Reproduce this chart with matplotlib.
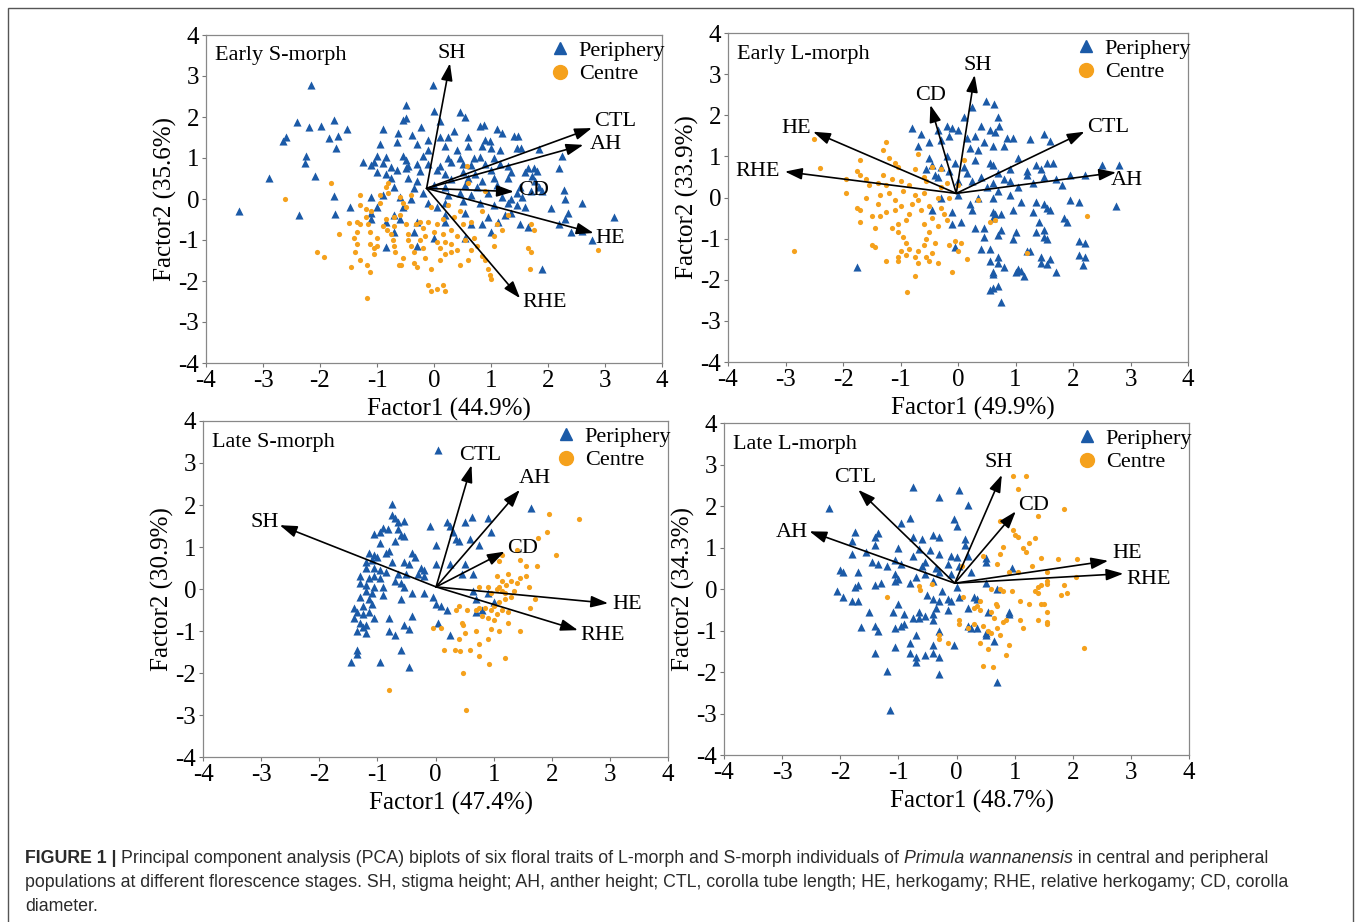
import matplotlib
matplotlib.use("Agg")
import matplotlib.pyplot as plt
from matplotlib.lines import Line2D

plt.rcParams["font.family"] = ["Liberation Serif", "DejaVu Serif"]
plt.rcParams["axes.unicode_minus"] = False

BLUE = "#1b5aa7"
ORANGE = "#f5a11c"

# ---------------------------------------------------------------
# data (PCA scores + loading vectors)
# ---------------------------------------------------------------

variables = ["SH", "AH", "CTL", "HE", "RHE", "CD"]

# Early S-morph
es_periphery = [
    (-2.15, 2.78), (-2.4, 1.88), (-2.2, 1.75), (-1.98, 1.78), (-1.75, 1.93), (-1.52, 1.7),
    (-1.85, 1.48), (-1.68, 1.53), (-2.65, 1.42), (-2.6, 1.52), (-1.72, 1.25), (-2.25, 1.05),
    (-2.27, 0.88), (-2.08, 0.55), (-2.9, 0.52), (-1.75, 0.08), (-3.42, -0.3), (-2.37, -0.38),
    (-1.74, -0.37), (-1.47, -0.2), (-1.24, 0.9), (-0.5, 2.3), (-0.55, 1.92), (-0.5, 1.98),
    (-0.9, 1.7), (-0.63, 1.6), (-0.38, 1.55), (-0.22, 1.75), (-0.01, 2.78), (0.0, 2.15),
    (0.1, 1.9), (0.45, 2.12), (0.55, 2.0), (0.35, 1.65), (0.6, 1.5), (0.8, 1.78), (0.88, 1.8),
    (1.1, 1.7), (1.2, 1.6), (1.4, 1.53), (1.47, 1.53), (-0.95, 1.35), (-0.65, 1.4), (-0.1, 1.45),
    (0.1, 1.5), (0.25, 1.5), (0.9, 1.45), (0.98, 1.42), (1.0, 1.25), (0.2, 1.3), (-0.3, 1.35),
    (-0.1, 1.2), (0.4, 1.2), (0.6, 1.3), (0.85, 1.3), (1.15, 1.2), (1.45, 1.25), (1.52, 1.25),
    (1.85, 1.23), (2.25, 1.05), (-1.0, 1.05), (-0.85, 1.02), (-0.55, 1.05), (-0.5, 0.95),
    (-0.2, 1.05), (0.25, 1.0), (0.45, 1.0), (0.7, 1.0), (0.8, 1.02), (1.05, 1.0), (-1.05, 0.9),
    (-0.9, 0.88), (-1.1, 0.82), (-0.75, 0.78), (-0.45, 0.8), (-0.3, 0.85), (-0.1, 0.85),
    (0.1, 0.8), (0.3, 0.9), (0.5, 0.85), (0.65, 0.82), (0.9, 0.85), (1.15, 0.85), (1.3, 0.8),
    (1.65, 0.75), (1.75, 0.75), (1.8, 0.68), (2.2, 0.75), (-1.0, 0.65), (-0.85, 0.6),
    (-0.65, 0.7), (-0.5, 0.75), (-0.25, 0.68), (0.05, 0.7), (0.2, 0.6), (0.5, 0.65), (0.72, 0.62),
    (1.0, 0.7), (1.35, 0.65), (1.6, 0.65), (1.72, 0.55), (-0.75, 0.5), (-0.45, 0.5), (-0.3, 0.45),
    (0.3, 0.48), (0.6, 0.5), (0.85, 0.45), (1.05, 0.5), (1.3, 0.5), (1.78, 0.45), (1.85, 0.3),
    (1.9, 0.2), (2.28, 0.22), (-0.7, 0.3), (-0.35, 0.28), (0.0, 0.35), (0.2, 0.3), (0.55, 0.35),
    (0.75, 0.3), (1.1, 0.35), (1.5, 0.3), (1.45, 0.15), (-1.1, 0.05), (-0.9, 0.1), (-0.6, 0.05),
    (-0.4, 0.0), (-0.2, 0.15), (0.25, 0.1), (0.45, 0.15), (0.65, 0.1), (0.95, 0.15), (1.2, 0.05),
    (1.35, 0.0), (1.55, 0.05), (1.7, 0.2), (2.3, 0.0), (2.6, -0.1), (-1.0, -0.2), (-0.55, -0.2),
    (-0.1, -0.1), (0.05, -0.2), (0.2, -0.1), (0.5, -0.05), (0.8, -0.1), (1.05, -0.15),
    (1.3, -0.1), (1.45, -0.15), (1.6, -0.2), (2.05, -0.22), (2.35, -0.35), (-1.1, -0.35),
    (-0.7, -0.4), (0.2, -0.4), (0.55, -0.35), (0.95, -0.45), (1.25, -0.4), (1.35, -0.35),
    (2.3, -0.5), (2.2, -0.6), (-1.1, -0.5), (-0.85, -0.55), (-0.6, -0.5), (-0.3, -0.55),
    (0.2, -0.55), (0.65, -0.6), (0.85, -0.6), (1.12, -0.55), (1.5, -0.6), (1.65, -0.68),
    (2.4, -0.8), (2.6, -0.78), (2.78, -1.0), (3.15, -0.45), (-0.7, -0.8), (-0.35, -0.8),
    (0.0, -0.95), (0.55, -0.95), (1.0, -0.8), (-0.85, -1.18), (-0.3, -1.15), (1.9, -1.7),
]
es_centre = [
    (-2.62, 0.0), (-1.8, 0.38), (-2.05, -1.3), (-1.93, -1.42), (-1.67, -0.85), (-1.5, -0.58),
    (-1.35, -0.55), (-1.35, -0.8), (-1.4, -0.95), (-1.35, -1.1), (-1.38, -1.3), (-1.3, -1.48),
    (-1.45, -1.65), (-1.18, -1.6), (-1.13, -1.78), (-1.18, -2.42), (-1.3, -0.6), (-1.3, 0.1),
    (-1.3, -0.15), (-1.2, -0.25), (-1.1, -0.3), (-1.15, -0.6), (-1.12, -0.8), (-1.12, -1.1),
    (-1.05, -1.2), (-1.0, -1.15), (-1.05, -1.35), (-1.0, -0.95), (-0.95, 0.1), (-0.95, -0.1),
    (-0.85, 0.3), (-0.8, 0.4), (-0.8, 0.15), (-0.85, -0.5), (-0.82, -0.75), (-0.75, -0.85),
    (-0.72, -1.0), (-0.7, -1.15), (-0.68, -1.3), (-0.62, -1.6), (-0.58, -1.6), (-0.6, -0.4),
    (-0.6, 0.05), (-0.55, -0.1), (-0.5, -0.2), (-0.5, -0.6), (-0.45, -0.85), (-0.45, -1.0),
    (-0.4, -1.15), (-0.35, -1.3), (-0.35, -1.55), (-0.3, -1.65), (-0.32, -0.6), (-0.25, -0.55),
    (-0.2, -0.7), (-0.25, -1.0), (-0.2, -1.2), (-0.15, -1.45), (-0.15, -0.9), (-0.1, -0.55),
    (-0.05, -0.2), (-0.05, -1.7), (0.05, -0.6), (0.05, -1.05), (0.1, -1.2), (0.1, -1.5),
    (0.15, -0.5), (0.15, -0.85), (0.2, -1.05), (0.2, -1.35), (0.25, -0.15), (0.3, -0.75),
    (0.3, -1.1), (0.3, -1.3), (0.4, -0.9), (0.4, -1.25), (0.45, -1.6), (0.5, -0.6), (0.55, -1.0),
    (0.58, 0.8), (0.6, 0.4), (0.65, -0.55), (0.65, -1.25), (0.7, -0.95), (0.75, -1.15),
    (0.85, -1.4), (0.9, -1.5), (0.95, -1.7), (0.98, -1.85), (1.0, -1.95), (1.05, -1.15),
    (1.05, -0.9), (1.1, -0.6), (1.2, -0.75), (1.3, -0.4), (1.7, -0.6), (1.75, -0.75),
    (1.65, -1.2), (1.7, -1.3), (1.68, -1.7), (2.88, -1.25), (-0.1, -2.1), (-0.05, -2.25),
    (0.05, -2.2), (0.15, -2.1), (0.2, -2.25), (-0.7, -0.45), (-0.9, -0.65), (-0.7, -0.65),
    (0.0, -0.8), (0.45, -0.3), (-0.4, 0.1), (0.35, -0.45), (0.85, -0.3), (0.9, 0.2),
    (-1.2, -0.45), (-0.55, -1.45), (0.6, -1.5),
]
es_origin = (-0.13, 0.26)
es_tips = [(0.28, 3.31), (2.62, 1.32), (2.77, 1.73), (2.80, -0.83), (1.51, -2.42), (1.40, 0.18)]

# Early L-morph
el_periphery = [
    (-1.75, -1.7), (0.48, 2.35), (0.62, 2.28), (0.7, 1.95), (0.25, 2.2), (0.1, 1.95), (-0.8, 1.7),
    (-0.65, 1.55), (-0.35, 1.65), (-0.2, 1.75), (-0.1, 1.7), (0.0, 1.65), (0.15, 1.45),
    (0.4, 1.75), (0.55, 1.65), (0.65, 1.6), (0.72, 1.75), (0.85, 1.45), (0.95, 1.45), (0.45, 1.35),
    (0.3, 1.5), (-0.5, 1.35), (-0.7, 1.25), (-0.3, 1.4), (-0.15, 1.5), (1.25, 1.42), (1.5, 1.55),
    (1.6, 1.38), (0.2, 1.2), (0.6, 1.25), (0.8, 1.25), (1.05, 0.95), (1.35, 0.8), (1.55, 0.85),
    (1.65, 0.85), (-0.5, 0.95), (-0.45, 0.8), (-0.3, 0.75), (-0.05, 0.85), (0.1, 0.75),
    (0.3, 0.9), (0.55, 0.85), (0.6, 0.8), (0.9, 0.7), (1.2, 0.65), (1.45, 0.7), (2.5, 0.8),
    (2.8, 0.8), (-0.55, 0.7), (-0.4, 0.55), (-0.15, 0.65), (0.15, 0.6), (0.4, 0.5), (0.7, 0.6),
    (0.8, 0.45), (1.2, 0.55), (1.5, 0.5), (1.7, 0.45), (1.95, 0.55), (2.2, 0.55), (-0.35, 0.5),
    (0.0, 0.4), (0.25, 0.4), (0.6, 0.35), (0.9, 0.4), (1.05, 0.25), (1.3, 0.35), (1.8, 0.3),
    (0.5, 0.25), (0.7, 0.15), (0.9, 0.05), (-0.3, 0.0), (0.0, 0.05), (0.35, 0.0), (0.6, 0.0),
    (1.1, -0.1), (1.35, -0.1), (1.5, -0.15), (1.95, -0.05), (2.1, -0.1), (2.75, -0.2),
    (-0.45, -0.3), (-0.1, -0.35), (0.25, -0.3), (0.6, -0.35), (0.75, -0.4), (0.95, -0.3),
    (1.3, -0.35), (1.55, -0.25), (1.6, -0.3), (1.85, -0.5), (1.9, -0.6), (0.6, -0.5), (1.4, -0.6),
    (-0.1, -0.65), (0.05, -0.6), (0.3, -0.75), (0.45, -0.75), (0.75, -0.8), (1.0, -0.85),
    (1.35, -0.85), (1.5, -0.8), (1.5, -0.95), (0.45, -0.95), (0.7, -0.9), (0.95, -1.0),
    (1.55, -1.0), (2.1, -1.05), (2.2, -1.1), (-0.05, -1.2), (0.4, -1.25), (0.55, -1.25),
    (1.2, -1.3), (1.25, -1.3), (1.45, -1.45), (1.6, -1.5), (1.55, -1.62), (1.45, -1.6),
    (2.1, -1.4), (2.2, -1.45), (2.18, -1.65), (1.7, -1.8), (0.55, -1.55), (0.7, -1.45),
    (0.7, -1.6), (0.8, -1.7), (0.6, -1.8), (0.6, -1.85), (1.0, -1.8), (1.05, -1.75), (1.1, -1.78),
    (1.15, -1.9), (0.55, -2.25), (0.6, -2.2), (0.7, -2.15), (0.75, -2.55), (0.65, -0.4),
    (0.2, -0.15), (-0.2, 1.0), (0.35, 1.15),
]
el_centre = [
    (-2.5, 1.42), (-2.4, 0.72), (-2.85, -1.3), (-1.95, 0.45), (-1.95, 0.1), (-1.75, 0.65),
    (-1.7, 0.55), (-1.7, 0.9), (-1.6, 0.45), (-1.55, 0.3), (-1.7, -0.3), (-1.75, -0.25),
    (-1.7, -0.6), (-1.5, -0.45), (-1.45, -0.75), (-1.5, -1.15), (-1.45, -1.2), (-1.25, 1.35),
    (-1.3, 1.15), (-1.2, 0.95), (-1.1, 0.85), (-1.05, 0.75), (-1.3, 0.55), (-1.4, 0.35),
    (-1.25, 0.3), (-1.15, 0.45), (-1.0, 0.4), (-1.35, 0.05), (-1.2, 0.1), (-1.1, -0.05),
    (-1.25, -0.35), (-1.35, -0.45), (-1.1, -0.3), (-1.0, -0.2), (-0.95, 0.15), (-0.85, 0.3),
    (-0.75, 0.7), (-0.7, 1.05), (-0.45, 0.75), (-0.55, 0.4), (-0.6, 0.1), (-0.7, -0.05),
    (-0.8, -0.15), (-0.85, -0.4), (-0.9, -0.55), (-1.05, -0.65), (-1.15, -0.75), (-1.05, -0.85),
    (-0.95, -0.95), (-0.9, -1.1), (-0.85, -1.25), (-1.0, -1.3), (-1.05, -1.45), (-0.9, -1.4),
    (-0.75, -1.45), (-0.7, -1.3), (-0.6, -1.15), (-0.55, -1.0), (-0.5, -0.85), (-0.6, -0.65),
    (-0.45, -0.5), (-0.5, -0.2), (-0.35, 0.0), (-0.3, 0.25), (-0.2, 0.35), (-0.25, -0.4),
    (-0.35, -0.7), (-0.4, -1.1), (-0.45, -1.35), (-0.55, -1.45), (-0.7, -1.6), (-0.5, -1.55),
    (-0.35, -1.6), (-0.15, -1.15), (-0.05, -1.05), (0.0, -1.3), (0.05, -1.1), (0.15, -1.5),
    (-0.1, -1.8), (-0.75, -1.9), (-0.88, -2.3), (-1.25, -1.55), (-1.05, -1.55), (0.0, 0.3),
    (0.1, 0.9), (0.35, -0.05), (0.55, -0.6), (0.65, -0.55), (1.2, -1.35), (2.25, -0.45),
    (-0.3, 0.7), (-0.6, 0.5), (-0.65, -0.3), (-0.75, 0.05), (-0.3, -0.25), (-0.2, -0.55),
    (-1.6, 0.0), (-1.4, -0.15), (-0.15, 0.0),
]
el_origin = (-0.03, 0.10)
el_tips = [(0.29, 2.98), (2.75, 0.61), (2.20, 1.60), (-2.52, 1.60), (-3.01, 0.63), (-0.48, 2.25)]

# Late S-morph
ls_periphery = [
    (0.05, 3.3), (1.65, 1.92), (-0.75, 2.03), (-0.75, 1.75), (-0.7, 1.68), (-0.65, 1.6),
    (-0.55, 1.62), (-0.9, 1.45), (-0.82, 1.42), (-0.65, 1.42), (-1.05, 1.32), (-0.95, 1.35),
    (-0.6, 1.28), (-0.55, 1.25), (-0.7, 1.15), (-0.95, 1.1), (-0.1, 1.5), (0.2, 1.6), (0.25, 1.5),
    (0.3, 1.35), (0.5, 1.6), (0.62, 1.72), (0.9, 1.7), (0.95, 1.35), (0.35, 1.2), (0.4, 1.15),
    (0.6, 1.2), (0.75, 1.05), (0.0, 1.05), (-1.15, 0.85), (-1.05, 0.8), (-0.85, 0.85),
    (-0.8, 0.9), (-0.4, 0.85), (-0.35, 0.75), (-1.2, 0.65), (-1.1, 0.7), (-1.0, 0.75),
    (-0.75, 0.65), (-0.55, 0.65), (-0.45, 0.6), (-0.25, 0.5), (-0.2, 0.45), (-1.2, 0.5),
    (-1.05, 0.5), (-0.95, 0.45), (-0.85, 0.4), (-0.65, 0.35), (-0.5, 0.35), (-1.3, 0.3),
    (-1.15, 0.25), (-1.05, 0.3), (-0.95, 0.25), (-0.7, 0.2), (-0.6, 0.15), (-0.3, 0.35),
    (0.0, 0.6), (0.25, 0.6), (0.5, 0.6), (0.65, 0.35), (0.45, 0.35), (-1.3, 0.15), (-1.2, 0.1),
    (-1.05, 0.05), (-0.9, 0.05), (-0.55, 0.05), (-1.2, -0.05), (-1.1, -0.1), (-1.3, -0.2),
    (-1.15, -0.25), (-0.9, -0.15), (-0.6, -0.25), (-0.4, -0.1), (-0.2, -0.1), (-0.05, -0.2),
    (-1.25, -0.4), (-1.1, -0.35), (-1.4, -0.45), (-1.35, -0.55), (-1.25, -0.6), (-1.15, -0.55),
    (-1.05, -0.7), (-1.4, -0.7), (-1.3, -0.8), (-1.2, -0.85), (-1.35, -1.0), (-1.2, -1.05),
    (-1.25, -0.9), (-0.8, -0.7), (-0.55, -0.85), (-0.45, -0.95), (-0.8, -1.0), (-0.7, -1.1),
    (-0.4, -0.65), (0.0, -0.35), (0.1, -0.4), (0.2, -0.5), (0.05, -0.8), (0.25, -1.1),
    (0.7, -0.25), (0.7, -0.55), (0.8, -0.5), (-1.35, -1.45), (-1.35, -1.55), (-1.45, -1.75),
    (-0.95, -1.75), (-0.45, -1.85), (-0.6, -1.45), (-0.2, 0.3), (0.65, -0.05), (0.9, -0.1),
    (1.0, -0.3),
]
ls_centre = [
    (1.95, 1.78), (2.47, 1.67), (1.92, 1.35), (1.77, 1.22), (2.08, 0.82), (1.4, 0.93),
    (1.15, 0.8), (1.1, 0.67), (1.45, 0.68), (1.75, 0.55), (1.55, 0.55), (1.05, 0.32),
    (1.25, 0.35), (1.45, 0.25), (1.55, 0.3), (1.15, 0.18), (1.3, 0.2), (1.4, 0.15), (1.22, 0.1),
    (1.1, 0.05), (0.75, 0.05), (0.9, 0.05), (1.6, 0.05), (0.95, -0.1), (1.15, -0.05),
    (1.35, -0.05), (1.3, -0.2), (1.1, -0.3), (1.2, -0.25), (1.0, -0.4), (0.85, -0.45),
    (0.75, -0.45), (0.7, -0.5), (0.95, -0.5), (1.15, -0.5), (1.25, -0.55), (1.05, -0.6),
    (0.8, -0.65), (0.9, -0.7), (1.0, -0.75), (1.25, -0.8), (0.55, -0.5), (0.35, -0.5),
    (0.4, -0.4), (1.72, -0.25), (1.62, -0.45), (0.45, -0.8), (0.48, -0.85), (-0.05, -0.92),
    (0.1, -0.92), (0.4, -1.2), (0.5, -1.05), (0.7, -1.0), (0.95, -0.95), (1.1, -1.0),
    (1.45, -1.0), (0.75, -1.3), (0.9, -1.2), (0.15, -1.45), (0.33, -1.45), (0.42, -1.47),
    (0.6, -1.45), (0.75, -1.6), (0.92, -1.78), (1.2, -1.65), (0.48, -2.0), (-0.8, -2.4),
    (0.52, -2.88), (1.05, 0.0), (1.2, -0.1),
]
ls_origin = (0.01, 0.05)
ls_tips = [(-2.68, 1.52), (1.45, 2.36), (0.62, 2.95), (2.97, -0.34), (2.45, -0.98), (1.19, 0.89)]

# Late L-morph
ll_periphery = [
    (-2.2, 1.95), (-0.75, 2.45), (0.05, 2.38), (-0.3, 2.22), (0.2, 2.02), (-0.8, 1.72),
    (-0.95, 1.58), (-0.05, 1.68), (0.0, 1.52), (-1.75, 1.38), (-1.35, 1.35), (-1.4, 1.25),
    (-0.75, 1.25), (-0.6, 1.2), (-0.4, 1.3), (-0.3, 1.25), (-1.8, 1.15), (-1.55, 0.9),
    (-1.4, 1.05), (-1.0, 1.0), (-0.65, 0.97), (-0.45, 0.95), (0.15, 1.2), (0.15, 1.05),
    (-1.8, 0.85), (-1.45, 0.65), (-1.35, 0.6), (-1.05, 0.7), (-0.75, 0.8), (-0.55, 0.65),
    (-0.3, 0.85), (-0.1, 0.8), (0.0, 0.78), (0.2, 0.8), (0.5, 0.75), (0.5, 0.65), (-1.2, 0.55),
    (-0.95, 0.6), (-0.6, 0.55), (-0.35, 0.5), (-0.15, 0.6), (0.05, 0.55), (-2.0, 0.45),
    (-1.95, 0.4), (-1.7, 0.42), (-1.05, 0.35), (-1.0, 0.25), (-0.7, 0.3), (-0.55, 0.35),
    (-0.3, 0.4), (-0.1, 0.35), (0.25, 0.4), (0.95, 0.5), (-1.7, 0.1), (-1.75, 0.05), (-1.4, 0.1),
    (-1.3, 0.15), (-1.05, 0.2), (-0.8, 0.15), (-0.4, 0.2), (0.5, 0.15), (-2.05, -0.05),
    (-1.95, -0.2), (-1.8, -0.3), (-1.7, -0.3), (-1.0, -0.35), (-0.4, -0.25), (-0.3, -0.3),
    (-0.15, -0.25), (-0.1, -0.3), (0.0, 0.05), (0.3, -0.2), (0.35, -0.25), (0.7, 0.0),
    (-1.5, -0.55), (-1.1, -0.55), (-0.9, -0.6), (-0.65, -0.55), (-0.55, -0.65), (-0.4, -0.6),
    (-0.35, -0.45), (-0.15, -0.5), (0.2, -0.45), (0.55, -0.55), (0.9, -0.55), (0.9, -0.6),
    (-1.65, -0.92), (-1.4, -0.9), (-1.35, -1.0), (-1.05, -0.95), (-0.95, -0.9), (-0.9, -0.85),
    (-0.75, -0.7), (-0.65, -0.7), (-0.4, -0.75), (-0.3, -1.0), (-0.7, -1.1), (0.25, -0.95),
    (0.35, -0.95), (0.5, -1.05), (0.5, -1.1), (0.65, -1.25), (-1.05, -1.4), (-0.8, -1.3),
    (-0.4, -1.35), (-0.05, -1.35), (-1.4, -1.55), (-0.8, -1.55), (-0.7, -1.65), (-0.7, -1.75),
    (-0.55, -1.6), (-0.4, -1.55), (-0.3, -1.65), (-1.2, -1.98), (-0.3, -2.05), (0.7, -2.25),
    (-1.15, -2.92), (0.2, -0.9), (0.05, -0.2), (-0.5, -0.15), (-0.25, -0.05),
]
ll_centre = [
    (0.97, 2.72), (1.2, 2.72), (1.05, 2.4), (1.85, 1.92), (1.4, 1.75), (0.75, 1.65), (0.97, 1.42),
    (1.0, 1.3), (1.05, 1.25), (1.35, 1.22), (1.25, 1.1), (1.15, 1.0), (0.8, 1.02), (1.2, 0.9),
    (0.75, 0.85), (0.45, 0.8), (1.45, 0.75), (1.75, 0.72), (2.07, 0.72), (0.7, 0.6), (1.3, 0.55),
    (1.55, 0.4), (1.05, 0.4), (0.9, 0.4), (0.1, 0.55), (2.05, 0.3), (1.85, 0.1), (1.55, 0.2),
    (1.45, 0.1), (1.4, 0.05), (1.55, 0.12), (0.6, 0.0), (0.75, 0.0), (0.8, -0.05), (1.35, -0.05),
    (1.9, -0.1), (1.4, -0.1), (1.8, -0.15), (-1.2, -0.2), (-0.65, 0.08), (-0.63, -0.03),
    (-0.43, 0.12), (0.12, -0.2), (0.4, -0.3), (0.68, -0.35), (0.7, -0.4), (1.1, -0.3),
    (1.25, -0.35), (1.45, -0.35), (1.5, -0.35), (0.35, -0.4), (0.4, -0.5), (0.6, -0.55),
    (0.65, -0.7), (0.8, -0.8), (0.85, -0.75), (1.1, -0.75), (1.4, -0.75), (1.55, -0.55),
    (1.55, -0.8), (1.55, -0.85), (0.05, -0.75), (0.05, -0.85), (0.3, -0.85), (0.2, -0.95),
    (0.45, -0.9), (0.6, -1.05), (0.7, -0.95), (0.75, -1.1), (1.15, -0.95), (0.55, -1.0),
    (-0.3, -1.1), (-0.3, -1.2), (-0.15, -1.3), (0.4, -1.3), (0.55, -1.45), (0.9, -1.35),
    (0.85, -1.6), (0.45, -1.85), (0.62, -1.88), (2.2, -1.42), (0.3, -0.45), (0.95, -0.05),
]
ll_origin = (-0.03, 0.14)
ll_tips = [(0.78, 2.75), (-2.53, 1.39), (-1.69, 2.39), (2.61, 0.68), (2.87, 0.37), (1.02, 1.87)]

panel_titles = ["Early S-morph", "Early L-morph", "Late S-morph", "Late L-morph"]
x_labels = ["Factor1 (44.9%)", "Factor1 (49.9%)", "Factor1 (47.4%)", "Factor1 (48.7%)"]
y_labels = ["Factor2 (35.6%)", "Factor2 (33.9%)", "Factor2 (30.9%)", "Factor2 (34.3%)"]

# label offsets (points) from arrow tip, same order as `variables`
label_offsets = [
    [(1, 7), (16, 0), (17, 5), (12, -4), (18, -3), (14, 1)],
    [(2, 7), (8, -6), (17, 3), (-12, 2), (-20, 0), (0, 7)],
    [(-11, 2), (11, 8), (6, 7), (14, -1), (18, -4), (13, 2)],
    [(-2, 9), (-13, -1), (-2, 9), (14, 5), (18, -4), (13, 4)],
]

# axes boxes in pixels: left, top, right, bottom
W, H = 1357, 922
boxes = [(206, 35, 662, 363), (728, 33, 1188, 362), (203, 421, 668, 757), (724, 423, 1189, 755)]


def draw_panel(ax, periphery, centre, origin, tips, offsets, title, xlab, ylab):
    px, py = zip(*periphery)
    cx, cy = zip(*centre)
    ax.scatter(px, py, marker="^", s=34, color=BLUE, linewidths=0, zorder=2)
    ax.scatter(cx, cy, marker="o", s=14, color=ORANGE, linewidths=0, zorder=3)

    for name, tip, off in zip(variables, tips, offsets):
        ax.annotate("", xy=tip, xytext=origin,
                    arrowprops=dict(arrowstyle="-|>,head_length=0.65,head_width=0.22",
                                    color="black", lw=1.2, mutation_scale=16,
                                    shrinkA=0, shrinkB=0), zorder=4)
        ax.annotate(name, xy=tip, xytext=off, textcoords="offset points",
                    ha="center", va="center", fontsize=16, zorder=5)

    ax.set_xlim(-4, 4)
    ax.set_ylim(-4, 4)
    ax.set_xticks(range(-4, 5))
    ax.set_yticks(range(-4, 5))
    ax.tick_params(labelsize=18, length=3, width=0.8, color="#777777", pad=2)
    for sp in ax.spines.values():
        sp.set_color("#888888")
        sp.set_linewidth(0.9)
    ax.set_xlabel(xlab, fontsize=18, labelpad=4)
    ax.set_ylabel(ylab, fontsize=18, labelpad=1)
    ax.xaxis.label.set_x(0.533)
    ax.text(0.02, 0.965, title, transform=ax.transAxes, fontsize=16, va="top", ha="left")

    handles = [Line2D([], [], marker="^", ls="none", color=BLUE, ms=9),
               Line2D([], [], marker="o", ls="none", color=ORANGE, ms=10)]
    ax.legend(handles, ["Periphery", "Centre"], loc="upper right", bbox_to_anchor=(1.012, 0.99),
              frameon=False, fontsize=16, handlelength=0.9, handletextpad=0.4,
              borderaxespad=0.0, borderpad=0.1, labelspacing=0.12)


fig = plt.figure(figsize=(W / 100, H / 100), dpi=100)

groups = [
    (es_periphery, es_centre, es_origin, es_tips),
    (el_periphery, el_centre, el_origin, el_tips),
    (ls_periphery, ls_centre, ls_origin, ls_tips),
    (ll_periphery, ll_centre, ll_origin, ll_tips),
]
for i, (per, cen, org, tips) in enumerate(groups):
    l, t, r, b = boxes[i]
    ax = fig.add_axes([l / W, 1 - b / H, (r - l) / W, (b - t) / H])
    draw_panel(ax, per, cen, org, tips, label_offsets[i], panel_titles[i], x_labels[i], y_labels[i])

# outer frame (bottom edge runs off the page)
frame = plt.Rectangle((8 / W, -0.05), (1353 - 8) / W, 1.05 - 8 / H, transform=fig.transFigure,
                      fill=False, ec="#555555", lw=1.0)
fig.add_artist(frame)

# ---------------------------------------------------------------
# caption
# ---------------------------------------------------------------
cap_font = ["Liberation Sans Narrow", "Liberation Sans", "DejaVu Sans"]
cap_size = 12.8
cap_color = "#2b2b2b"
cap_lines = [
    [("FIGURE 1 | ", "bold", "normal"),
     ("Principal component analysis (PCA) biplots of six floral traits of L-morph and S-morph individuals of ", "normal", "normal"),
     ("Primula wannanensis", "normal", "italic"),
     (" in central and peripheral", "normal", "normal")],
    [("populations at different florescence stages. SH, stigma height; AH, anther height; CTL, corolla tube length; "
      "HE, herkogamy; RHE, relative herkogamy; CD, corolla", "normal", "normal")],
    [("diameter.", "normal", "normal")],
]
baselines = [863, 887, 911]

fig.canvas.draw()
renderer = fig.canvas.get_renderer()
for parts, yb in zip(cap_lines, baselines):
    x = 25
    for s, weight, style in parts:
        t = fig.text(x / W, 1 - yb / H, s, family=cap_font, fontsize=cap_size, weight=weight,
                     style=style, color=cap_color, va="baseline", ha="left")
        bb = t.get_window_extent(renderer)
        x = bb.x1

fig.savefig("out.png", dpi=100)
